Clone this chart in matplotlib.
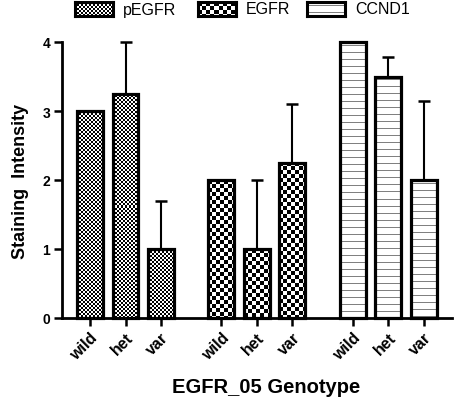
import numpy as np
import matplotlib
matplotlib.use("Agg")
import matplotlib.pyplot as plt
from matplotlib.transforms import ScaledTranslation

genotypes = ["wild", "het", "var"]
markers = ["pEGFR", "EGFR", "CCND1"]
means = {
    "pEGFR": [3.0, 3.25, 1.0],
    "EGFR": [2.0, 1.0, 2.25],
    "CCND1": [4.0, 3.5, 2.0],
}
errs = {
    "pEGFR": [0.0, 0.75, 0.7],
    "EGFR": [0.0, 1.0, 0.85],
    "CCND1": [0.0, 0.28, 1.15],
}

plt.rcParams['font.family'] = ['Liberation Sans', 'DejaVu Sans']


def texture(kind, h, w):
    h = max(int(round(h)), 1)
    w = max(int(round(w)), 1)
    i, j = np.mgrid[0:h, 0:w]
    if kind == "pEGFR":
        img = ((i // 2 + j // 2) % 2).astype(float)
    elif kind == "EGFR":
        img = ((i // 4 + j // 4) % 2).astype(float)
    else:
        img = np.where(i % 7 == 3, 0.5, 1.0)
    return img


fig = plt.figure(figsize=(4.55, 4.02), dpi=100)
ax = fig.add_axes([62 / 455, 83 / 402, (452 - 62) / 455, (319 - 43) / 402])
ax.set_xlim(-0.79, 10.2)
ax.set_ylim(0, 4)

width = 0.73
ticks = []
for g, m in enumerate(markers):
    x = g * 3.7 + np.arange(len(genotypes))
    ticks.extend(x)
    bars = ax.bar(x, means[m], width, facecolor='none', edgecolor='black',
                  linewidth=2.3, zorder=3, clip_on=False)
    ax.errorbar(x, means[m], yerr=[np.zeros(3), errs[m]], fmt='none',
                ecolor='black', elinewidth=1.5, capsize=4.5, capthick=1.8,
                zorder=2, clip_on=False)
    for r in bars:
        x0, y0 = r.get_x(), r.get_y()
        x1, y1 = x0 + r.get_width(), y0 + r.get_height()
        p0 = ax.transData.transform((x0, y0))
        p1 = ax.transData.transform((x1, y1))
        img = texture(m, p1[1] - p0[1], p1[0] - p0[0])
        ax.imshow(img, cmap='gray', vmin=0, vmax=1, extent=(x0, x1, y0, y1),
                  interpolation='nearest', aspect='auto', zorder=2.5,
                  origin='upper', clip_on=False)

ax.set_xlim(-0.79, 10.2)
ax.set_ylim(0, 4)
ax.set_xticks(ticks)
ax.set_xticklabels(genotypes * 3, rotation=45, ha='right', va='top',
                   rotation_mode='anchor', fontsize=11.5, fontweight='bold')
shift = ScaledTranslation(6 / 100, 0, fig.dpi_scale_trans)
for lab in ax.get_xticklabels():
    lab.set_transform(lab.get_transform() + shift)
ax.set_yticks([0, 1, 2, 3, 4])
ax.set_yticklabels(['0', '1', '2', '3', '4'], fontsize=10, fontweight='bold')
ax.tick_params(direction='out', length=5.5, width=1.8, pad=3)
for s in ['top', 'right']:
    ax.spines[s].set_visible(False)
for s in ['left', 'bottom']:
    ax.spines[s].set_linewidth(2.0)

ax.set_ylabel('Staining  Intensity', fontsize=13, fontweight='bold', labelpad=10)
ax.set_xlabel('EGFR_05 Genotype', fontsize=14.5, fontweight='bold')
ax.xaxis.set_label_coords(0.523, -0.215)

# legend along the top
legend_x = [75, 198, 307]
for m, lx in zip(markers, legend_x):
    lax = fig.add_axes([lx / 455, 1 - 17 / 402, 38 / 455, 14 / 402])
    lax.imshow(texture(m, 14, 38), cmap='gray', vmin=0, vmax=1,
               interpolation='nearest', aspect='auto')
    lax.set_xticks([])
    lax.set_yticks([])
    for s in lax.spines.values():
        s.set_linewidth(2.2)
    fig.text((lx + 48) / 455, 1 - 10 / 402, m, fontsize=11.5, va='center', ha='left')

fig.savefig('out.png', dpi=100)
